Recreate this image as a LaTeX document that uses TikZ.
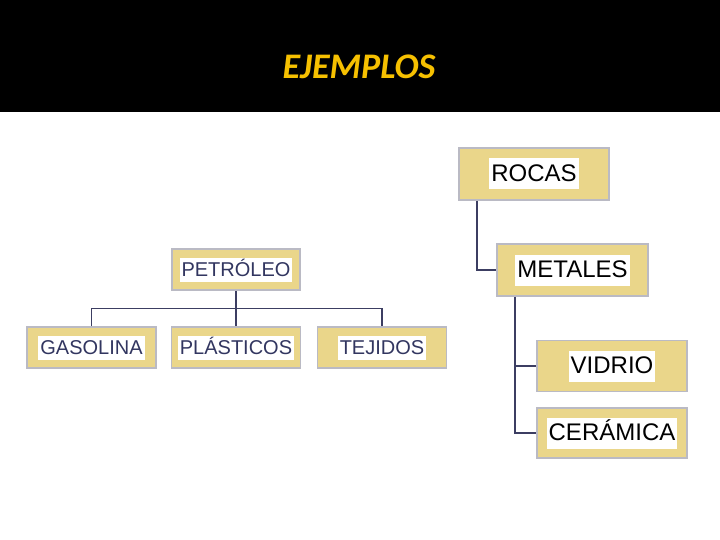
\documentclass[tikz,border=0pt]{standalone}
\usepackage{fontspec}
\setmainfont{Liberation Sans}
\newfontfamily\titlefont{Carlito}
\usetikzlibrary{positioning, calc}
\definecolor{headblack}{RGB}{0, 0, 0}
\definecolor{titleyellow}{RGB}{246, 192, 0}
\definecolor{boxtan}{RGB}{234, 214, 138}
\definecolor{boxgray}{RGB}{186, 186, 196}
\definecolor{linenavy}{RGB}{60, 62, 98}
\definecolor{textnavy}{RGB}{50, 54, 96}

\tikzset{
    tanbox/.style={draw=boxgray, line width=1.6pt, fill=boxtan, inner sep=0pt},
    bigtxt/.style={fill=white, inner xsep=2pt, inner ysep=0pt, text height=23pt, text depth=8pt, font=\fontsize{24}{26}\selectfont, text=black},
    smalltxt/.style={fill=white, inner xsep=2pt, inner ysep=0pt, text height=19pt, text depth=5pt, font=\fontsize{20}{22}\selectfont, text=textnavy},
    link/.style={draw=linenavy, line width=1.8pt},
    bar/.style={draw=linenavy, line width=1.1pt}
}

\begin{document}
\begin{tikzpicture}[x=1pt, y=-1pt]
    \useasboundingbox (0, 0) rectangle (720, 540);

    % Header
    \fill[headblack] (0, 0) rectangle (720, 112);
    \node (title) at (359, 67) [text=titleyellow, font=\titlefont\bfseries\itshape\fontsize{36}{38}\selectfont] {EJEMPLOS};

    % Right column: ROCAS -> METALES -> VIDRIO, CERAMICA
    \node (rocas) at (534, 174) [tanbox, minimum width=150pt, minimum height=52pt] {};
    \node at (rocas) [bigtxt] {ROCAS};
    \node (metales) at (572.5, 270) [tanbox, minimum width=151pt, minimum height=52pt] {};
    \node at (metales) [bigtxt] {METALES};
    \node (vidrio) at (612, 366) [tanbox, minimum width=150pt, minimum height=51pt] {};
    \node at (vidrio) [bigtxt] {VIDRIO};
    \node (ceramica) at (612, 433) [tanbox, minimum width=150pt, minimum height=50pt] {};
    \node at (ceramica) [bigtxt] {CERÁMICA};

    \coordinate (rk) at ([xshift=19pt]rocas.south west);
    \coordinate (mt) at ([xshift=19pt]metales.south west);
    \draw[link] (rk) |- (metales.west);
    \draw[link] (mt) |- (vidrio.west);
    \draw[link] (mt) |- (ceramica.west);

    % Left tree: PETROLEO and its three products
    \node (petroleo) at (236, 269.5) [tanbox, minimum width=128pt, minimum height=41pt] {};
    \node at (petroleo) [smalltxt] {PETRÓLEO};
    \foreach \name/\x/\txt in {gasolina/91.5/GASOLINA, plasticos/236/PLÁSTICOS, tejidos/382/TEJIDOS} {
        \node (\name) at (\x, 347.5) [tanbox, minimum width=129pt, minimum height=41pt] {};
        \node at (\name) [smalltxt] {\txt};
    }

    \coordinate (split) at ($(petroleo.south)!0.5!(plasticos.north)$);
    \draw[link] (petroleo.south) -- (plasticos.north);
    \draw[bar] (gasolina.north) |- (split) -| (tejidos.north);
\end{tikzpicture}
\end{document}
